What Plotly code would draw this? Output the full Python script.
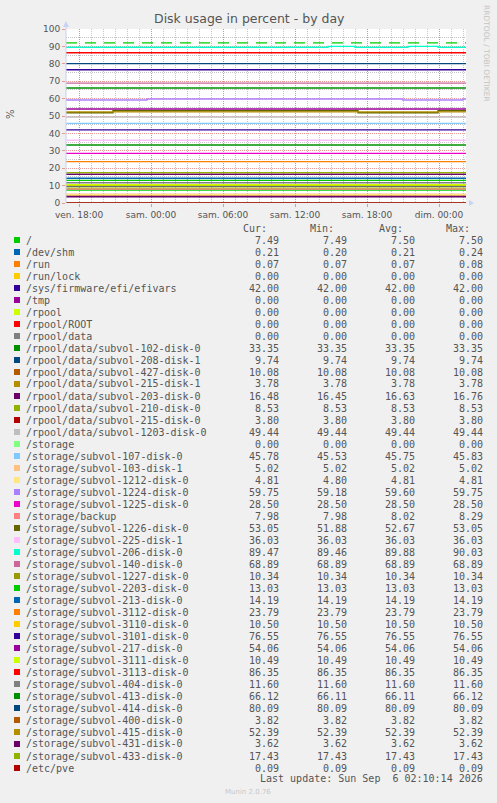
import plotly.graph_objects as go

# ---------------- data ----------------
labels = [
    "/", "/dev/shm", "/run", "/run/lock", "/sys/firmware/efi/efivars", "/tmp",
    "/rpool", "/rpool/ROOT", "/rpool/data", "/rpool/data/subvol-102-disk-0",
    "/rpool/data/subvol-208-disk-1", "/rpool/data/subvol-427-disk-0",
    "/rpool/data/subvol-215-disk-1", "/rpool/data/subvol-203-disk-0",
    "/rpool/data/subvol-210-disk-0", "/rpool/data/subvol-215-disk-0",
    "/rpool/data/subvol-1203-disk-0", "/storage", "/storage/subvol-107-disk-0",
    "/storage/subvol-103-disk-1", "/storage/subvol-1212-disk-0",
    "/storage/subvol-1224-disk-0", "/storage/subvol-1225-disk-0", "/storage/backup",
    "/storage/subvol-1226-disk-0", "/storage/subvol-225-disk-1",
    "/storage/subvol-206-disk-0", "/storage/subvol-140-disk-0",
    "/storage/subvol-1227-disk-0", "/storage/subvol-2203-disk-0",
    "/storage/subvol-213-disk-0", "/storage/subvol-3112-disk-0",
    "/storage/subvol-3110-disk-0", "/storage/subvol-3101-disk-0",
    "/storage/subvol-217-disk-0", "/storage/subvol-3111-disk-0",
    "/storage/subvol-3113-disk-0", "/storage/subvol-404-disk-0",
    "/storage/subvol-413-disk-0", "/storage/subvol-414-disk-0",
    "/storage/subvol-400-disk-0", "/storage/subvol-415-disk-0",
    "/storage/subvol-431-disk-0", "/storage/subvol-433-disk-0", "/etc/pve",
]

cur_vals = [7.49, 0.21, 0.07, 0.00, 42.00, 0.00, 0.00, 0.00, 0.00, 33.35,
            9.74, 10.08, 3.78, 16.48, 8.53, 3.80, 49.44, 0.00, 45.78, 5.02,
            4.81, 59.75, 28.50, 7.98, 53.05, 36.03, 89.47, 68.89, 10.34, 13.03,
            14.19, 23.79, 10.50, 76.55, 54.06, 10.49, 86.35, 11.60, 66.12, 80.09,
            3.82, 52.39, 3.62, 17.43, 0.09]
min_vals = [7.49, 0.20, 0.07, 0.00, 42.00, 0.00, 0.00, 0.00, 0.00, 33.35,
            9.74, 10.08, 3.78, 16.45, 8.53, 3.80, 49.44, 0.00, 45.53, 5.02,
            4.80, 59.18, 28.50, 7.98, 51.88, 36.03, 89.46, 68.89, 10.34, 13.03,
            14.19, 23.79, 10.50, 76.55, 54.06, 10.49, 86.35, 11.60, 66.11, 80.09,
            3.82, 52.39, 3.62, 17.43, 0.09]
avg_vals = [7.50, 0.21, 0.07, 0.00, 42.00, 0.00, 0.00, 0.00, 0.00, 33.35,
            9.74, 10.08, 3.78, 16.63, 8.53, 3.80, 49.44, 0.00, 45.75, 5.02,
            4.81, 59.60, 28.50, 8.02, 52.67, 36.03, 89.88, 68.89, 10.34, 13.03,
            14.19, 23.79, 10.50, 76.55, 54.06, 10.49, 86.35, 11.60, 66.11, 80.09,
            3.82, 52.39, 3.62, 17.43, 0.09]
max_vals = [7.50, 0.24, 0.08, 0.00, 42.00, 0.00, 0.00, 0.00, 0.00, 33.35,
            9.74, 10.08, 3.78, 16.76, 8.53, 3.80, 49.44, 0.00, 45.83, 5.02,
            4.81, 59.75, 28.50, 8.29, 53.05, 36.03, 90.03, 68.89, 10.34, 13.03,
            14.19, 23.79, 10.50, 76.55, 54.06, 10.49, 86.35, 11.60, 66.12, 80.09,
            3.82, 52.39, 3.62, 17.43, 0.09]

palette = ["#00CC00", "#0066B3", "#FF8000", "#FFCC00", "#330099", "#990099",
           "#CCFF00", "#FF0000", "#808080", "#008F00", "#00487D", "#B35A00",
           "#B38F00", "#6B006B", "#8FB300", "#B30000", "#BEBEBE", "#80FF80",
           "#80C9FF", "#FFC080", "#FFE680", "#AA80FF", "#EE00CC", "#FF8080",
           "#666600", "#FFBFFF", "#00FFCC", "#CC6699", "#999900"]

time_start = "2026-09-04 16:55"
time_end = "2026-09-06 02:15"

tick_times = ["2026-09-04 18:00", "2026-09-05 00:00", "2026-09-05 06:00",
              "2026-09-05 12:00", "2026-09-05 18:00", "2026-09-06 00:00"]
tick_labels = ["ven. 18:00", "sam. 00:00", "sam. 06:00",
               "sam. 12:00", "sam. 18:00", "dim. 00:00"]

# series that change during the day (step points)
times_1224 = ["2026-09-04 16:55", "2026-09-04 23:40", "2026-09-05 21:00",
              "2026-09-06 02:00", "2026-09-06 02:15"]
vals_1224 = [59.18, 59.75, 59.18, 59.75, 59.75]

times_1226 = ["2026-09-04 16:55", "2026-09-04 20:50", "2026-09-05 17:15",
              "2026-09-05 23:55", "2026-09-06 02:15"]
vals_1226 = [51.88, 53.05, 51.88, 53.05, 53.05]

times_206 = ["2026-09-04 16:55", "2026-09-05 14:45", "2026-09-05 17:00",
             "2026-09-05 21:25", "2026-09-05 23:55", "2026-09-06 02:15"]
vals_206 = [89.50, 90.03, 89.50, 90.03, 89.47, 89.47]

step_series = {
    "/storage/subvol-1224-disk-0": (times_1224, vals_1224),
    "/storage/subvol-1226-disk-0": (times_1226, vals_1226),
    "/storage/subvol-206-disk-0": (times_206, vals_206),
}

warning_level = 92

last_update = "Last update: Sun Sep\u00a0\u00a06 02:10:14 2026"

# ---------------- geometry helpers ----------------
W, H = 497, 803
PL, PR, PT, PB = 66, 466, 29, 203


def px(x):
    return (x - PL) / (PR - PL)


def py(y):
    return (PB - y) / (PB - PT)


TEXT = "#555555"
MONO = "DejaVu Sans Mono"
SANS = "DejaVu Sans"

fig = go.Figure()

# warning line
fig.add_trace(go.Scatter(
    x=[time_start, time_end], y=[warning_level, warning_level], mode="lines",
    line=dict(color="#00CC00", width=1.4, dash="11px,8px"),
    hoverinfo="skip", showlegend=False))

for i, lab in enumerate(labels):
    col = palette[i % len(palette)]
    if lab in step_series:
        xs, ys = step_series[lab]
    else:
        xs, ys = [time_start, time_end], [cur_vals[i], cur_vals[i]]
    fig.add_trace(go.Scatter(
        x=xs, y=ys, mode="lines", line=dict(color=col, width=1.4, shape="hv"),
        name=lab, showlegend=False))

annotations = []
shapes = []

# title
annotations.append(dict(text="Disk usage in percent - by day", x=px(249), y=py(19),
                         xref="paper", yref="paper", showarrow=False,
                         xanchor="center", yanchor="middle",
                         font=dict(family=SANS, size=12.5, color=TEXT)))
# y label
annotations.append(dict(text="%", x=px(10), y=py(114), xref="paper", yref="paper",
                         showarrow=False, textangle=-90, xanchor="center",
                         yanchor="middle", font=dict(family=SANS, size=10, color=TEXT)))
# rrdtool credit
annotations.append(dict(text="RRDTOOL / TOBI OETIKER", x=px(487), y=py(53),
                         xref="paper", yref="paper", showarrow=False, textangle=90,
                         xanchor="center", yanchor="middle",
                         font=dict(family=SANS, size=7.5, color="#C4C4C4")))

# legend header
for hdr, xr in zip(["Cur:", "Min:", "Avg:", "Max:"], [268, 335, 404, 471]):
    annotations.append(dict(text=hdr, x=px(xr), y=py(228), xref="paper", yref="paper",
                             showarrow=False, xanchor="right", yanchor="middle",
                             borderpad=0,
                             font=dict(family=MONO, size=10, color=TEXT)))

col_x = [280, 348, 416, 484]
for i, lab in enumerate(labels):
    ry = 240 + 12 * i
    col = palette[i % len(palette)]
    shapes.append(dict(type="rect", xref="paper", yref="paper",
                       x0=px(14), x1=px(20), y0=py(ry - 3), y1=py(ry + 3),
                       fillcolor=col, line=dict(width=0)))
    annotations.append(dict(text=lab, x=px(25), y=py(ry), xref="paper", yref="paper",
                             showarrow=False, xanchor="left", yanchor="middle",
                             borderpad=0,
                             font=dict(family=MONO, size=10, color=TEXT)))
    for vals, xr in zip([cur_vals, min_vals, avg_vals, max_vals], col_x):
        annotations.append(dict(text=f"{vals[i]:.2f}", x=px(xr), y=py(ry),
                                 xref="paper", yref="paper", showarrow=False,
                                 xanchor="right", yanchor="middle", borderpad=0,
                                 font=dict(family=MONO, size=10, color=TEXT)))

annotations.append(dict(text=last_update, x=px(484), y=py(779), xref="paper",
                         yref="paper", showarrow=False, xanchor="right",
                         yanchor="middle", borderpad=0,
                         font=dict(family=MONO, size=10, color=TEXT)))
annotations.append(dict(text="Munin 2.0.76", x=px(248), y=py(792), xref="paper",
                         yref="paper", showarrow=False, xanchor="center",
                         yanchor="middle", borderpad=0,
                         font=dict(family=SANS, size=7, color="#C8C8C8")))

# axis arrows
AX = "#C8D2F4"
shapes.append(dict(type="line", xref="paper", yref="paper", x0=px(66), x1=px(66),
                   y0=py(203), y1=py(24), line=dict(color=AX, width=1), layer="above"))
shapes.append(dict(type="path", xref="paper", yref="paper",
                   path=f"M {px(63)} {py(27)} L {px(69)} {py(27)} L {px(66)} {py(21)} Z",
                   fillcolor=AX, line=dict(width=0), layer="above"))
shapes.append(dict(type="path", xref="paper", yref="paper",
                   path=f"M {px(469)} {py(200)} L {px(469)} {py(206)} L {px(474)} {py(203)} Z",
                   fillcolor=AX, line=dict(width=0), layer="above"))

MGRID = "rgba(230,120,120,0.75)"
GRID = "rgba(150,150,150,0.55)"

fig.update_layout(
    width=W, height=H,
    margin=dict(l=PL, r=W - PR, t=PT, b=H - PB, autoexpand=False),
    paper_bgcolor="#F0F0F0", plot_bgcolor="#FFFFFF",
    showlegend=False, template="none",
    annotations=annotations, shapes=shapes,
    xaxis=dict(
        type="date", range=[time_start, time_end], automargin=False,
        tickmode="array", tickvals=tick_times, ticktext=tick_labels,
        showgrid=True, gridcolor=MGRID, gridwidth=1, griddash="1px,1px",
        ticks="outside", ticklen=3, tickcolor=MGRID,
        tickfont=dict(family=SANS, size=9, color=TEXT),
        showline=False, zeroline=False,
        minor=dict(tick0="2026-09-04 18:00", dtick=3600000, showgrid=True,
                   gridcolor=GRID, gridwidth=1, griddash="1px,1px"),
    ),
    yaxis=dict(
        range=[0, 100], automargin=False, tickmode="linear", tick0=0, dtick=10,
        showgrid=True, gridcolor=MGRID, gridwidth=1, griddash="1px,1px",
        ticks="outside", ticklen=3, tickcolor=MGRID,
        tickfont=dict(family=SANS, size=9, color=TEXT),
        showline=False, zeroline=False,
        minor=dict(dtick=5, showgrid=True, gridcolor=GRID, gridwidth=1,
                   griddash="1px,1px"),
    ),
    hovermode=False,
)

fig.write_html("out.html",
               config={"displayModeBar": False, "staticPlot": True},
               post_script="document.body.style.margin='0';"
                           "document.body.style.padding='0';"
                           "document.documentElement.style.overflow='hidden';")
